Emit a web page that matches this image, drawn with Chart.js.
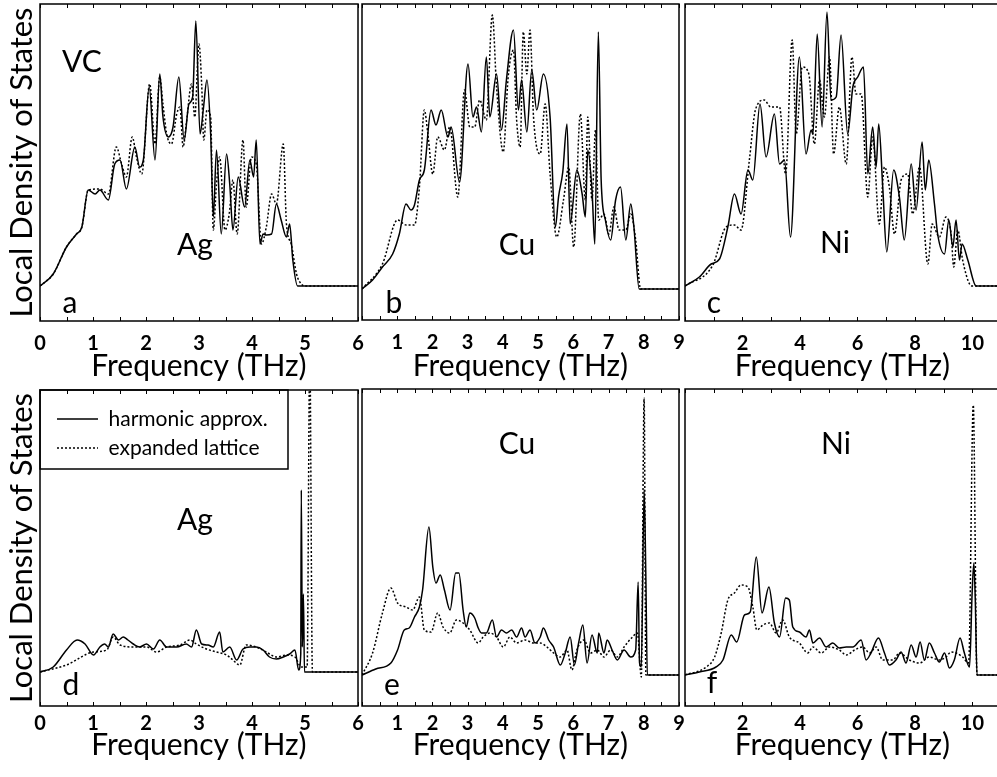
<!DOCTYPE html>
<html>
<head>
<meta charset="utf-8">
<script src="https://cdn.jsdelivr.net/npm/chart.js@4.4.0/dist/chart.umd.min.js"></script>
<style>
  html, body { margin: 0; padding: 0; background: #fff; overflow: hidden; width: 997px; height: 777px; }
  .panel { position: absolute; }
</style>
</head>
<body>
<div class="panel" style="left:0px;top:0px"><canvas id="pa" width="365" height="385"></canvas></div>
<div class="panel" style="left:356px;top:0px"><canvas id="pb" width="330" height="385"></canvas></div>
<div class="panel" style="left:680px;top:0px"><canvas id="pc" width="322" height="385"></canvas></div>
<div class="panel" style="left:0px;top:385px"><canvas id="pd" width="365" height="392"></canvas></div>
<div class="panel" style="left:356px;top:385px"><canvas id="pe" width="330" height="392"></canvas></div>
<div class="panel" style="left:680px;top:385px"><canvas id="pf" width="322" height="392"></canvas></div>
<script>
// local density of states, [frequency THz, LDOS (arb.)]
// top row: vacancy neighbour (VC)
var agVcHarmonic = [[0,0],[0.25,0.12],[0.5,0.39],[0.69,0.52],[0.79,0.59],[0.91,0.96],[1.04,0.92],[1.13,0.96],[1.29,0.86],[1.41,1.22],[1.51,1.26],[1.63,0.97],[1.79,1.39],[1.88,1.19],[1.95,1.26],[2.06,1.99],[2.17,1.26],[2.26,2.12],[2.32,1.69],[2.42,1.49],[2.51,1.59],[2.62,2.09],[2.72,1.46],[2.81,1.82],[2.88,1.89],[2.94,2.65],[3.02,1.52],[3.08,1.76],[3.15,2.06],[3.22,1.52],[3.27,0.69],[3.33,1.36],[3.42,0.52],[3.52,1.32],[3.58,1.02],[3.64,0.56],[3.74,1.09],[3.86,0.79],[3.96,1.26],[4.03,1.09],[4.08,1.46],[4.15,0.42],[4.21,0.52],[4.27,0.51],[4.37,0.52],[4.46,0.82],[4.55,0.66],[4.65,0.49],[4.71,0.62],[4.77,0.26],[4.86,0],[6,0]];
var agVcExpanded = [[0,0],[0.25,0.12],[0.5,0.39],[0.69,0.52],[0.79,0.59],[0.91,0.96],[1.13,0.97],[1.29,0.92],[1.44,1.39],[1.54,1.22],[1.63,1.09],[1.74,1.49],[1.82,1.29],[1.92,1.12],[2.07,2.02],[2.17,1.42],[2.26,2.09],[2.32,1.82],[2.39,1.52],[2.48,1.42],[2.58,1.72],[2.64,1.79],[2.7,1.39],[2.76,1.62],[2.86,2.02],[2.92,1.69],[3.0,2.42],[3.05,2.02],[3.09,1.46],[3.15,1.76],[3.22,1.69],[3.27,0.56],[3.33,1.02],[3.39,1.29],[3.49,0.56],[3.57,0.72],[3.64,1.06],[3.72,0.52],[3.83,1.46],[3.89,0.79],[3.99,1.29],[4.08,1.22],[4.18,0.42],[4.27,0.59],[4.37,0.92],[4.46,0.82],[4.59,1.42],[4.65,0.62],[4.74,0.42],[4.84,0.12],[4.93,0.02],[4.99,0],[6,0]];
var cuVcHarmonic = [[0,0],[0.3,0.09],[0.58,0.22],[0.87,0.35],[1.06,0.55],[1.25,0.85],[1.39,0.79],[1.49,0.84],[1.63,1.09],[1.77,1.19],[1.96,1.79],[2.1,1.64],[2.25,1.79],[2.44,1.52],[2.53,1.62],[2.77,1.07],[3.01,2.25],[3.15,1.72],[3.25,1.82],[3.39,1.57],[3.53,2.32],[3.63,1.72],[3.82,2.15],[3.96,1.59],[4.1,2.09],[4.3,2.59],[4.44,1.79],[4.53,2.09],[4.68,1.57],[4.82,2.19],[4.96,1.79],[5.15,2.15],[5.34,1.72],[5.49,0.62],[5.58,0.92],[5.7,1.17],[5.82,1.65],[5.91,0.65],[6.1,1.19],[6.25,0.95],[6.34,0.72],[6.41,1.39],[6.53,0.99],[6.61,0.45],[6.71,2.57],[6.79,1.09],[6.91,0.69],[7.06,0.49],[7.2,0.89],[7.34,1.02],[7.49,0.49],[7.63,0.85],[7.72,0.62],[7.87,0],[9,0]];
var cuVcExpanded = [[0,0],[0.58,0.25],[1.01,0.69],[1.25,0.64],[1.49,0.64],[1.63,1.02],[1.77,1.79],[1.87,1.55],[2.01,1.15],[2.15,1.52],[2.34,1.39],[2.49,1.62],[2.72,0.92],[2.91,1.99],[3.06,1.62],[3.2,1.62],[3.34,1.89],[3.53,1.69],[3.7,2.74],[3.82,2.02],[4.01,1.37],[4.15,2.12],[4.3,2.39],[4.39,1.69],[4.49,1.42],[4.58,2.57],[4.68,2.15],[4.77,2.59],[4.87,1.72],[5.06,1.35],[5.2,1.85],[5.34,1.15],[5.53,0.52],[5.72,0.89],[5.87,1.22],[6.01,0.42],[6.2,1.75],[6.34,0.89],[6.41,1.72],[6.53,0.89],[6.63,1.59],[6.72,0.69],[6.87,0.75],[7.01,0.55],[7.15,0.82],[7.3,0.59],[7.49,0.59],[7.63,0.75],[7.77,0.49],[7.91,0],[9,0]];
var niVcHarmonic = [[0,0],[0.5,0.09],[0.91,0.22],[1.2,0.27],[1.49,0.59],[1.72,0.92],[1.95,0.72],[2.19,1.16],[2.36,1.06],[2.61,1.82],[2.82,1.29],[3.11,1.72],[3.29,1.22],[3.46,1.26],[3.67,0.49],[3.98,2.29],[4.21,1.32],[4.39,1.56],[4.45,1.52],[4.6,2.52],[4.77,1.59],[4.94,2.74],[5.08,1.86],[5.26,1.89],[5.43,2.51],[5.66,1.52],[5.84,1.99],[6.01,2.09],[6.21,2.19],[6.36,1.12],[6.53,1.59],[6.65,1.19],[6.74,1.62],[6.88,0.99],[7.02,0.34],[7.26,1.16],[7.46,0.89],[7.63,0.46],[7.87,1.22],[8.04,0.76],[8.25,1.44],[8.36,0.96],[8.48,1.26],[8.68,0.82],[8.79,0.52],[9.03,0.32],[9.18,0.66],[9.32,0.39],[9.43,0.66],[9.55,0.26],[9.64,0.42],[9.84,0.26],[10.13,0],[11,0]];
var niVcExpanded = [[0,0],[0.97,0.21],[1.43,0.59],[1.72,0.61],[1.95,0.56],[2.24,1.26],[2.45,1.76],[2.76,1.86],[2.98,1.79],[3.29,1.79],[3.5,1.12],[3.73,2.46],[3.87,1.52],[4.08,2.19],[4.31,2.12],[4.5,1.42],[4.68,2.06],[4.85,1.69],[5.03,2.29],[5.17,1.32],[5.37,1.79],[5.61,1.22],[5.81,2.29],[5.95,1.92],[6.13,1.92],[6.36,0.89],[6.53,1.49],[6.76,0.62],[6.94,1.19],[7.11,0.99],[7.29,0.52],[7.52,1.06],[7.75,1.12],[7.92,0.72],[8.16,1.19],[8.45,0.22],[8.6,0.62],[8.85,0.49],[9.08,0.69],[9.26,0.52],[9.35,0.19],[9.49,0.56],[9.66,0.26],[9.9,0.02],[10.01,0],[11,0]];
// bottom row
var agHarmonic = [[0,0],[0.25,0.05],[0.5,0.22],[0.7,0.32],[0.85,0.28],[1.01,0.17],[1.13,0.25],[1.22,0.28],[1.29,0.25],[1.38,0.38],[1.48,0.32],[1.57,0.35],[1.66,0.32],[1.76,0.28],[1.88,0.25],[2.01,0.28],[2.14,0.23],[2.26,0.32],[2.39,0.25],[2.58,0.25],[2.76,0.28],[2.86,0.25],[2.95,0.42],[3.05,0.28],[3.17,0.27],[3.27,0.25],[3.39,0.4],[3.45,0.2],[3.58,0.25],[3.71,0.12],[3.83,0.23],[3.96,0.25],[4.08,0.25],[4.21,0.22],[4.33,0.15],[4.46,0.13],[4.59,0.15],[4.71,0.18],[4.81,0.22],[4.88,0.02],[4.92,0.18],[4.93,1.82],[4.95,0.25],[4.97,0.78],[4.99,0],[6,0]];
var agExpanded = [[0,0],[0.5,0.07],[1.01,0.2],[1.26,0.22],[1.38,0.35],[1.51,0.27],[1.76,0.25],[2.01,0.25],[2.2,0.2],[2.39,0.25],[2.64,0.27],[2.83,0.32],[2.95,0.28],[3.14,0.23],[3.33,0.2],[3.52,0.17],[3.64,0.12],[3.77,0.07],[3.89,0.27],[4.08,0.25],[4.27,0.2],[4.46,0.15],[4.65,0.17],[4.81,0.15],[4.93,0.05],[5.04,0.05],[5.09,3.2],[5.14,0],[6,0]];
var cuHarmonic = [[0,0],[0.39,0.06],[0.82,0.12],[1.01,0.25],[1.2,0.45],[1.34,0.47],[1.49,0.58],[1.63,0.68],[1.72,0.85],[1.9,1.48],[2.01,1.08],[2.1,0.92],[2.22,1.0],[2.34,0.85],[2.5,0.65],[2.66,1.02],[2.75,1.02],[2.87,0.65],[2.96,0.48],[3.06,0.62],[3.2,0.57],[3.3,0.47],[3.39,0.42],[3.53,0.42],[3.7,0.55],[3.82,0.38],[3.96,0.45],[4.1,0.42],[4.25,0.45],[4.39,0.38],[4.53,0.47],[4.63,0.38],[4.77,0.45],[4.91,0.32],[5.06,0.38],[5.15,0.47],[5.3,0.35],[5.44,0.28],[5.63,0.1],[5.77,0.22],[5.91,0.38],[6.03,0.1],[6.15,0.32],[6.27,0.5],[6.39,0.12],[6.53,0.4],[6.68,0.22],[6.72,0.42],[6.87,0.22],[6.96,0.35],[7.1,0.25],[7.25,0.15],[7.44,0.25],[7.63,0.18],[7.77,0.25],[7.84,0.93],[7.88,0.12],[7.93,0.08],[8.01,1.85],[8.06,0.95],[8.1,0],[9,0]];
var cuExpanded = [[0,0],[0.3,0.22],[0.58,0.62],[0.82,0.87],[1.01,0.72],[1.25,0.68],[1.44,0.65],[1.63,0.78],[1.77,0.45],[1.96,0.43],[2.15,0.62],[2.3,0.48],[2.49,0.42],[2.68,0.55],[2.87,0.52],[3.06,0.45],[3.3,0.32],[3.44,0.38],[3.63,0.42],[3.82,0.38],[4.01,0.28],[4.2,0.38],[4.39,0.32],[4.63,0.35],[4.87,0.32],[5.06,0.32],[5.25,0.28],[5.44,0.22],[5.63,0.18],[5.82,0.25],[5.96,0.05],[6.1,0.25],[6.3,0.35],[6.49,0.22],[6.68,0.25],[6.87,0.18],[7.06,0.25],[7.25,0.18],[7.44,0.28],[7.68,0.38],[7.82,0.42],[7.93,-0.02],[8.01,2.77],[8.06,0],[9,0]];
var niHarmonic = [[0,0],[0.5,0.03],[1.08,0.08],[1.32,0.15],[1.61,0.4],[1.8,0.33],[2.07,0.6],[2.27,0.63],[2.48,1.18],[2.68,0.62],[2.92,0.88],[3.11,0.52],[3.29,0.38],[3.5,0.77],[3.63,0.75],[3.75,0.48],[3.98,0.43],[4.21,0.38],[4.33,0.45],[4.45,0.32],[4.68,0.37],[4.91,0.28],[5.14,0.32],[5.37,0.27],[5.61,0.28],[5.84,0.28],[6.13,0.35],[6.3,0.15],[6.47,0.22],[6.73,0.37],[6.94,0.22],[7.11,0.1],[7.34,0.15],[7.52,0.23],[7.69,0.12],[7.87,0.3],[8.04,0.18],[8.18,0.33],[8.33,0.15],[8.5,0.32],[8.68,0.22],[8.85,0.13],[9.03,0.22],[9.2,0.07],[9.37,0.15],[9.57,0.37],[9.72,0.22],[9.9,0.08],[9.99,0.82],[10.05,1.12],[10.1,0.75],[10.16,0],[11,0]];
var niExpanded = [[0,0],[0.74,0.08],[1.03,0.18],[1.26,0.42],[1.49,0.75],[1.72,0.82],[1.95,0.9],[2.19,0.88],[2.36,0.68],[2.5,0.45],[2.71,0.5],[2.94,0.52],[3.17,0.42],[3.4,0.55],[3.63,0.38],[3.98,0.32],[4.27,0.22],[4.45,0.28],[4.74,0.22],[5.03,0.28],[5.37,0.25],[5.61,0.2],[5.9,0.25],[6.19,0.28],[6.42,0.22],[6.65,0.28],[6.88,0.15],[7.23,0.15],[7.46,0.22],[7.81,0.15],[8.16,0.12],[8.5,0.18],[8.85,0.15],[9.08,0.18],[9.26,0.23],[9.43,0.22],[9.66,0.18],[9.87,0.12],[10.03,2.7],[10.16,0],[11,0]];

var seriesNames = ['harmonic approx.', 'expanded lattice'];
var yTitle = 'Local Density of States';
var xTitle = 'Frequency (THz)';

Chart.defaults.font.family = 'Lato, "DejaVu Sans", sans-serif';
Chart.defaults.color = '#000';

// frame, inward tick marks and panel annotations
var deco = {
  id: 'deco',
  afterLayout: function (chart, args, o) {
    if (o.legendShift && chart.legend) {
      chart.legend.left += o.legendShift[0];
      chart.legend.top += o.legendShift[1];
    }
  },
  afterDatasetsDraw: function (chart, args, o) {
    var ctx = chart.ctx, a = chart.chartArea, sx = chart.scales.x;
    ctx.save();
    ctx.strokeStyle = '#000';
    ctx.lineWidth = 1.5;
    ctx.strokeRect(a.left, a.top, a.right - a.left, a.bottom - a.top);
    ctx.lineWidth = 1;
    sx.ticks.forEach(function (t) {
      var r = t.value / o.step;
      if (Math.abs(r - Math.round(r)) > 1e-6) return;
      var px = Math.round(sx.getPixelForValue(t.value)) + 0.5;
      ctx.beginPath();
      ctx.moveTo(px, a.bottom); ctx.lineTo(px, a.bottom - 4);
      ctx.moveTo(px, a.top); ctx.lineTo(px, a.top + 4);
      ctx.stroke();
    });
    if (o.legendBox) {
      ctx.lineWidth = 1.5;
      ctx.strokeRect(a.left, a.top, o.legendBox[0], o.legendBox[1]);
    }
    ctx.fillStyle = '#000';
    ctx.textAlign = 'center';
    ctx.textBaseline = 'alphabetic';
    o.texts.forEach(function (t) {
      ctx.font = t.size + 'px Lato';
      ctx.fillText(t.text, a.left + t.dx, a.top + t.dy);
    });
    ctx.restore();
  }
};

function makePanel(id, harm, expd, opt) {
  var ctx = document.getElementById(id).getContext('2d');
  var yScale = {
    display: opt.yAxis, min: opt.ymin, max: opt.ymax,
    grid: { display: false, drawTicks: false },
    border: { display: false },
    ticks: { display: false },
    title: { display: true, text: yTitle, font: { size: 31 }, padding: { top: 3, bottom: 0 } }
  };
  if (opt.yAxis) yScale.afterFit = function (s) { s.width = 40; };
  return new Chart(ctx, {
    type: 'line',
    data: {
      datasets: [
        { label: seriesNames[0], data: harm, borderColor: '#000', backgroundColor: '#000', borderWidth: 1.5 },
        { label: seriesNames[1], data: expd, borderColor: '#000', backgroundColor: '#000', borderWidth: 1.5, borderDash: [2, 2] }
      ]
    },
    options: {
      responsive: false,
      animation: false,
      devicePixelRatio: 1,
      events: [],
      layout: { padding: opt.pad },
      elements: { point: { radius: 0 }, line: { tension: 0.2, cubicInterpolationMode: 'monotone', fill: false } },
      scales: {
        x: {
          type: 'linear', min: 0, max: opt.xmax,
          grid: { display: false, drawTicks: false },
          border: { display: false },
          ticks: {
            stepSize: opt.step, autoSkip: false, maxRotation: 0, includeBounds: false,
            padding: opt.tickPad, font: { size: 20, weight: 'bold' },
            callback: opt.label
          },
          title: { display: true, text: xTitle, font: { size: 30 }, padding: { top: 0, bottom: opt.titlePad } },
          afterFit: function (s) { s.height = opt.xh; s.paddingLeft = 0; s.paddingRight = 0; }
        },
        y: yScale
      },
      plugins: {
        legend: {
          display: !!opt.legend,
          position: 'chartArea',
          align: 'start',
          labels: { boxWidth: 41, boxHeight: 0, padding: 8, color: '#000', font: { size: 21 } }
        },
        tooltip: { enabled: false },
        deco: { step: opt.tickStep, texts: opt.texts, legendShift: opt.legend ? [9, 15.5] : null, legendBox: opt.legend ? [248, 79] : null }
      }
    },
    plugins: [deco]
  });
}

var labelAll = function (v) { return Number.isInteger(v) ? String(v) : ''; };
var labelNoZero = function (v) { return Number.isInteger(v) && v !== 0 ? String(v) : ''; };
var labelEven = function (v) { return Number.isInteger(v) && v % 2 === 0 && v !== 0 ? String(v) : ''; };

makePanel('pa', agVcHarmonic, agVcExpanded, {
  pad: { left: 0, right: 7, top: 4, bottom: 0 }, xh: 64, titlePad: 1, tickPad: 11,
  xmax: 6, step: 0.5, tickStep: 0.5, label: labelAll, yAxis: true, ymin: -0.35, ymax: 2.82,
  texts: [{ text: 'VC', dx: 42, dy: 68, size: 30 }, { text: 'Ag', dx: 155, dy: 251, size: 30 }, { text: 'a', dx: 30, dy: 309, size: 30 }]
});
makePanel('pb', cuVcHarmonic, cuVcExpanded, {
  pad: { left: 6, right: 7, top: 4, bottom: 0 }, xh: 65, titlePad: 1, tickPad: 11,
  xmax: 9, step: 0.5, tickStep: 0.5, label: labelNoZero, yAxis: false, ymin: -0.31, ymax: 2.85,
  texts: [{ text: 'Cu', dx: 155, dy: 251, size: 30 }, { text: 'b', dx: 32, dy: 309, size: 30 }]
});
makePanel('pc', niVcHarmonic, niVcExpanded, {
  pad: { left: 5, right: 2, top: 4, bottom: 0 }, xh: 64, titlePad: 1, tickPad: 11,
  xmax: 10.96, step: 1, tickStep: 1, label: labelEven, yAxis: false, ymin: -0.35, ymax: 2.82,
  texts: [{ text: 'Ni', dx: 150, dy: 249, size: 30 }, { text: 'c', dx: 29, dy: 309, size: 30 }]
});
makePanel('pd', agHarmonic, agExpanded, {
  pad: { left: 0, right: 7, top: 5, bottom: 0 }, xh: 71, titlePad: 14, tickPad: 6,
  xmax: 6, step: 0.5, tickStep: 0.5, label: labelAll, yAxis: true, ymin: -0.34, ymax: 2.82, legend: true,
  texts: [{ text: 'Ag', dx: 155, dy: 140, size: 30 }, { text: 'd', dx: 31, dy: 305, size: 30 }]
});
makePanel('pe', cuHarmonic, cuExpanded, {
  pad: { left: 6, right: 7, top: 4, bottom: 0 }, xh: 71, titlePad: 14, tickPad: 6,
  xmax: 9, step: 0.5, tickStep: 0.5, label: labelNoZero, yAxis: false, ymin: -0.31, ymax: 2.86,
  texts: [{ text: 'Cu', dx: 155, dy: 65, size: 30 }, { text: 'e', dx: 30, dy: 306, size: 30 }]
});
makePanel('pf', niHarmonic, niExpanded, {
  pad: { left: 5, right: 2, top: 4, bottom: 0 }, xh: 71, titlePad: 14, tickPad: 6,
  xmax: 10.96, step: 1, tickStep: 1, label: labelEven, yAxis: false, ymin: -0.31, ymax: 2.86,
  texts: [{ text: 'Ni', dx: 151, dy: 65, size: 30 }, { text: 'f', dx: 27, dy: 304, size: 30 }]
});
</script>
</body>
</html>
